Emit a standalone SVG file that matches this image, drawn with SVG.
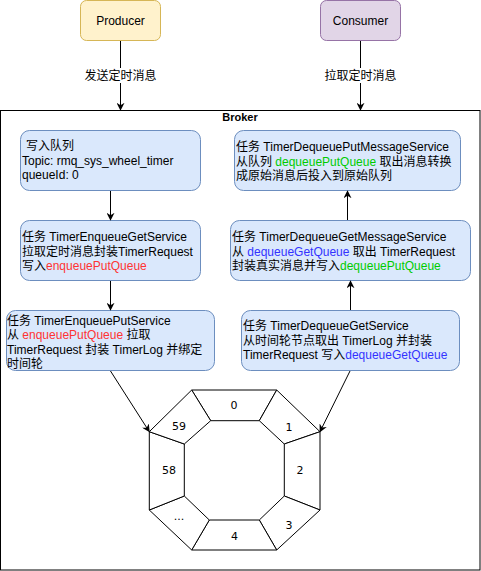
<svg xmlns="http://www.w3.org/2000/svg" width="481" height="571" viewBox="0 0 481 571">
<defs>
<marker id="arr" viewBox="0 0 10 10" refX="9" refY="5" markerWidth="8" markerHeight="8" orient="auto" markerUnits="userSpaceOnUse">
<path d="M0,0 L10,5 L0,10 L3,5 Z" fill="#000"/>
</marker>
</defs>
<style>
text{font-family:"Liberation Sans","Noto Sans CJK SC",sans-serif;font-size:12px;fill:#000}
.task{fill:#dae8fc;stroke:#6c8ebf;stroke-width:1}
.line{stroke:#000;stroke-width:1;fill:none}
.seg{fill:#fff;stroke:#000;stroke-width:1}
.num{font-family:"DejaVu Sans",sans-serif;font-size:11px;text-anchor:middle}
.red{fill:#ff3333}
.green{fill:#00cc00}
.blue{fill:#3333ff}
.c{text-anchor:middle}
</style>
<rect width="481" height="571" fill="#fff"/>
<g id="broker">
<rect x="0.5" y="110.5" width="479.5" height="459.5" fill="#fff" stroke="#000" stroke-width="1"/>
<text x="240" y="121" class="c" style="font-weight:bold;font-size:11px">Broker</text>
</g>
<g id="producer">
<rect x="80.5" y="0.5" width="80" height="40" rx="6" fill="#fff2cc" stroke="#d6b656"/>
<text x="120.5" y="25" class="c">Producer</text>
</g>
<g id="consumer">
<rect x="320.5" y="0.5" width="80" height="40" rx="6" fill="#e1d5e7" stroke="#9673a6"/>
<text x="360.5" y="25" class="c">Consumer</text>
</g>
<g id="box1">
<rect class="task" x="20.5" y="130.5" width="180" height="60" rx="9"/>
<text x="22" y="150"><tspan x="26">写入队列</tspan><tspan x="22" dy="14.5">Topic: rmq_sys_wheel_timer</tspan><tspan x="22" dy="14.5">queueId: 0</tspan></text>
</g>
<g id="box2">
<rect class="task" x="20.5" y="220.5" width="180" height="60" rx="9"/>
<text x="22" y="241"><tspan x="22">任务 TimerEnqueueGetService</tspan><tspan x="22" dy="14.5">拉取定时消息封装TimerRequest</tspan><tspan x="22" dy="14.5">写入<tspan class="red">enqueuePutQueue</tspan></tspan></text>
</g>
<g id="box3">
<rect class="task" x="6.5" y="310.5" width="208" height="60" rx="9"/>
<text x="7" y="325"><tspan x="7">任务 TimerEnqueuePutService</tspan><tspan x="7" dy="14.3">从 <tspan class="red">enqueuePutQueue</tspan> 拉取</tspan><tspan x="7" dy="14.3">TimerRequest 封装 TimerLog 并绑定</tspan><tspan x="7" dy="14.3">时间轮</tspan></text>
</g>
<g id="box4">
<rect class="task" x="234.5" y="130.5" width="226" height="60" rx="9"/>
<text x="236" y="151"><tspan x="236">任务 TimerDequeuePutMessageService</tspan><tspan x="236" dy="14.5">从队列 <tspan class="green">dequeuePutQueue</tspan> 取出消息转换</tspan><tspan x="236" dy="14.5">成原始消息后投入到原始队列</tspan></text>
</g>
<g id="box5">
<rect class="task" x="230.5" y="220.5" width="240" height="60" rx="9"/>
<text x="232" y="241"><tspan x="232">任务 TimerDequeueGetMessageService</tspan><tspan x="232" dy="14.5">从 <tspan class="blue">dequeueGetQueue</tspan> 取出 TimerRequest</tspan><tspan x="232" dy="14.5">封装真实消息并写入<tspan class="green">dequeuePutQueue</tspan></tspan></text>
</g>
<g id="box6">
<rect class="task" x="241.5" y="310.5" width="218" height="60" rx="9"/>
<text x="243" y="330"><tspan x="243">任务 TimerDequeueGetService</tspan><tspan x="243" dy="14.5">从时间轮节点取出 TimerLog 并封装</tspan><tspan x="243" dy="14.5">TimerRequest 写入<tspan class="blue">dequeueGetQueue</tspan></tspan></text>
</g>
<g id="wheel">
<g id="slot0"><polygon class="seg" points="191.7,390 276.7,390 259.3,420.7 210.7,420.7"/><text class="num" x="234" y="409">0</text></g>
<g id="slot1"><polygon class="seg" points="276.7,390 320,431.7 284.3,444 259.3,420.7"/><text class="num" x="289" y="431">1</text></g>
<g id="slot2"><polygon class="seg" points="320,431.7 320,510 284.3,496 284.3,444"/><text class="num" x="300" y="474">2</text></g>
<g id="slot3"><polygon class="seg" points="320,510 276.7,550 259.3,520 284.3,496"/><text class="num" x="289" y="529">3</text></g>
<g id="slot4"><polygon class="seg" points="276.7,550 191.7,550 209.3,520 259.3,520"/><text class="num" x="234.5" y="540">4</text></g>
<g id="slotdots"><polygon class="seg" points="191.7,550 149.3,510 184.3,496 209.3,520"/><text class="num" x="179" y="520">...</text></g>
<g id="slot58"><polygon class="seg" points="149.3,510 149.3,431.7 184.3,444 184.3,496"/><text class="num" x="169" y="474">58</text></g>
<g id="slot59"><polygon class="seg" points="149.3,431.7 191.7,390 210.7,420.7 184.3,444"/><text class="num" x="179" y="430">59</text></g>
</g>
<g id="connectors">
<line class="line" x1="120.5" y1="41" x2="120.5" y2="110" marker-end="url(#arr)"/>
<rect x="82" y="68" width="77" height="15" fill="#fff"/>
<text x="120.5" y="80" class="c">发送定时消息</text>
<line class="line" x1="360.5" y1="41" x2="360.5" y2="110" marker-end="url(#arr)"/>
<rect x="322" y="68" width="77" height="15" fill="#fff"/>
<text x="360.5" y="80" class="c">拉取定时消息</text>
<line class="line" x1="110.5" y1="191" x2="110.5" y2="220" marker-end="url(#arr)"/>
<line class="line" x1="110.5" y1="281" x2="110.5" y2="310" marker-end="url(#arr)"/>
<line class="line" x1="347.5" y1="220" x2="347.5" y2="191" marker-end="url(#arr)"/>
<line class="line" x1="350.5" y1="310" x2="350.5" y2="281" marker-end="url(#arr)"/>
<line class="line" x1="110.5" y1="371" x2="149.3" y2="431.7" marker-end="url(#arr)"/>
<line class="line" x1="350" y1="371" x2="320" y2="431.7" marker-end="url(#arr)"/>
</g>
</svg>
